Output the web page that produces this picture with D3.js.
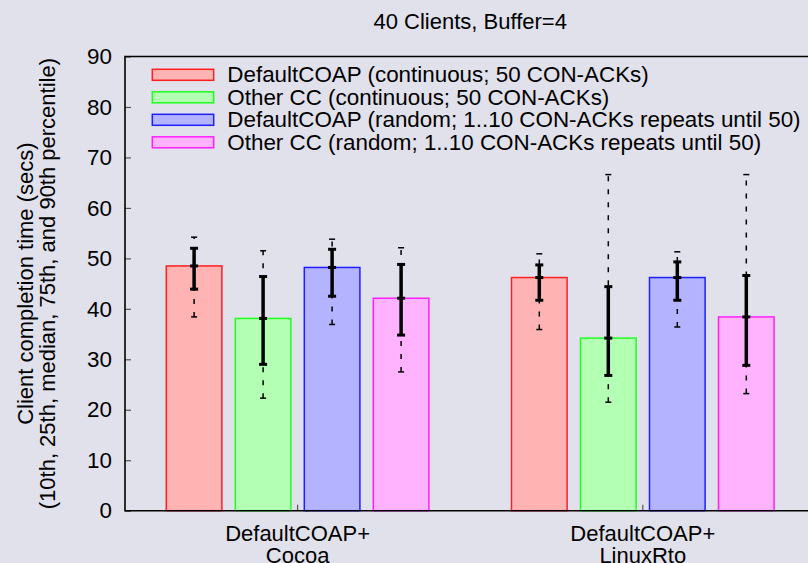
<!DOCTYPE html>
<html>
<head>
<meta charset="utf-8">
<script src="https://cdn.jsdelivr.net/npm/d3@7"></script>
<style>
  body { margin: 0; background: #e1e1ec; overflow: hidden; }
  svg { display: block; font-family: "Liberation Sans", Arial, sans-serif; }
</style>
</head>
<body>
<script>
const groups = ["DefaultCOAP+|Cocoa", "DefaultCOAP+|LinuxRto"];
const series = [
  "DefaultCOAP (continuous; 50 CON-ACKs)",
  "Other CC (continuous; 50 CON-ACKs)",
  "DefaultCOAP (random; 1..10 CON-ACKs repeats until 50)",
  "Other CC (random; 1..10 CON-ACKs repeats until 50)"
];
// per series: [Cocoa, LinuxRto]
const p10 = [[38.4, 35.9], [22.3, 21.5], [36.9, 36.4], [27.5, 23.2]];
const p25 = [[43.9, 41.7], [29.0, 26.8], [42.5, 41.7], [34.8, 28.8]];
const median = [[48.5, 46.2], [38.1, 34.2], [48.2, 46.2], [42.1, 38.4]];
const p75 = [[52.0, 48.7], [46.4, 44.4], [51.8, 49.3], [48.8, 46.6]];
const p90 = [[54.2, 50.9], [51.5, 66.6], [53.8, 51.3], [52.1, 66.6]];
const yTicks = [0, 10, 20, 30, 40, 50, 60, 70, 80, 90];

const strokeCol = ["#ff2020", "#20ff20", "#2020ff", "#ff20ff"];
const fillCol = ["#ffb3b3", "#b3ffb3", "#b3b3ff", "#ffb3ff"];

const W = 808, H = 563;
const mLeft = 125, mTop = 56.5, mBottom = 510.7, mRight = 815.4;
const fs = 22.4;

const svg = d3.select("body").append("svg")
  .attr("width", W).attr("height", H);

const x0 = d3.scaleBand().domain(groups).range([mLeft, mRight]).padding(0);
const x1 = d3.scaleBand().domain(d3.range(series.length)).range([-138, 138])
  .paddingInner(0.194).paddingOuter(0.097);
const y = d3.scaleLinear().domain([0, 90]).range([mBottom, mTop]);

// title
svg.append("text")
  .attr("x", (mLeft + mRight) / 2).attr("y", 29)
  .attr("text-anchor", "middle").attr("font-size", 22)
  .text("40 Clients, Buffer=4");

// y axis title
const yt = svg.append("text")
  .attr("transform", `translate(0,${(mTop + mBottom) / 2}) rotate(-90)`)
  .attr("text-anchor", "middle").attr("font-size", 22);
yt.append("tspan").attr("x", 0).attr("y", 25).attr("dominant-baseline", "central")
  .text("Client completion time (secs)");
yt.append("tspan").attr("x", 0).attr("y", 47).attr("dominant-baseline", "central")
  .text("(10th, 25th, median, 75th, and 90th percentile)");

// bars
const cells = [];
series.forEach((s, i) => groups.forEach((g, j) => cells.push({ i, j, g })));

svg.append("g").selectAll("rect").data(cells).enter().append("rect")
  .attr("x", d => x0(d.g) + x0.bandwidth() / 2 + x1(d.i))
  .attr("y", d => y(median[d.i][d.j]))
  .attr("width", x1.bandwidth())
  .attr("height", d => mBottom - y(median[d.i][d.j]))
  .attr("fill", d => fillCol[d.i])
  .attr("stroke", d => strokeCol[d.i])
  .attr("stroke-width", 1.5);

// whiskers
const wk = svg.append("g").selectAll("g").data(cells).enter().append("g")
  .attr("transform", d => `translate(${x0(d.g) + x0.bandwidth() / 2 + x1(d.i) + x1.bandwidth() / 2},0)`);

wk.append("line")
  .attr("y1", d => y(p10[d.i][d.j])).attr("y2", d => y(p90[d.i][d.j]))
  .attr("stroke", "#000").attr("stroke-width", 1.5).attr("stroke-dasharray", "5,8");
[p10, p90].forEach(arr => {
  wk.append("line")
    .attr("x1", -3).attr("x2", 3)
    .attr("y1", d => y(arr[d.i][d.j])).attr("y2", d => y(arr[d.i][d.j]))
    .attr("stroke", "#000").attr("stroke-width", 1.5);
});
wk.append("line")
  .attr("y1", d => y(p25[d.i][d.j])).attr("y2", d => y(p75[d.i][d.j]))
  .attr("stroke", "#000").attr("stroke-width", 3.5);
[p25, median, p75].forEach(arr => {
  wk.append("line")
    .attr("x1", -4).attr("x2", 4)
    .attr("y1", d => y(arr[d.i][d.j])).attr("y2", d => y(arr[d.i][d.j]))
    .attr("stroke", "#000").attr("stroke-width", 3);
});

// y axis
const ya = svg.append("g").attr("transform", `translate(${mLeft},0)`)
  .call(d3.axisLeft(y).tickValues(yTicks).tickSize(-6).tickSizeOuter(0).tickPadding(13));
ya.select(".domain").remove();
ya.selectAll(".tick line").attr("stroke", "#555").attr("stroke-width", 1.2);
ya.selectAll(".tick text").attr("font-size", fs).attr("fill", "#000")
  .attr("font-family", "Liberation Sans, Arial, sans-serif");

// x axis
const xa = svg.append("g").attr("transform", `translate(0,${mBottom})`)
  .call(d3.axisBottom(x0).tickSize(-6).tickSizeOuter(0).tickFormat(""));
xa.select(".domain").remove();
xa.selectAll(".tick line").attr("stroke", "#555").attr("stroke-width", 1.2);

const xl = svg.append("g").selectAll("text").data(groups).enter().append("text")
  .attr("text-anchor", "middle").attr("font-size", 22);
xl.append("tspan").attr("x", d => x0(d) + x0.bandwidth() / 2).attr("y", 541)
  .text(d => d.split("|")[0]);
xl.append("tspan").attr("x", d => x0(d) + x0.bandwidth() / 2).attr("y", 562.5)
  .text(d => d.split("|")[1]);

// frame
svg.append("path")
  .attr("d", `M${mRight},${mTop}H${mLeft}V${mBottom}H${mRight}`)
  .attr("fill", "none").attr("stroke", "#000").attr("stroke-width", 1.6);

// legend
const lg = svg.append("g").selectAll("g").data(series).enter().append("g")
  .attr("transform", (d, i) => `translate(0,${74.8 + i * 22.5})`);
lg.append("rect")
  .attr("x", 152.3).attr("y", -5.5).attr("width", 61.4).attr("height", 11)
  .attr("fill", (d, i) => fillCol[i]).attr("stroke", (d, i) => strokeCol[i])
  .attr("stroke-width", 1.5);
lg.append("text")
  .attr("x", 227.3).attr("y", 0).attr("dominant-baseline", "central")
  .attr("font-size", fs).text(d => d);
</script>
</body>
</html>
